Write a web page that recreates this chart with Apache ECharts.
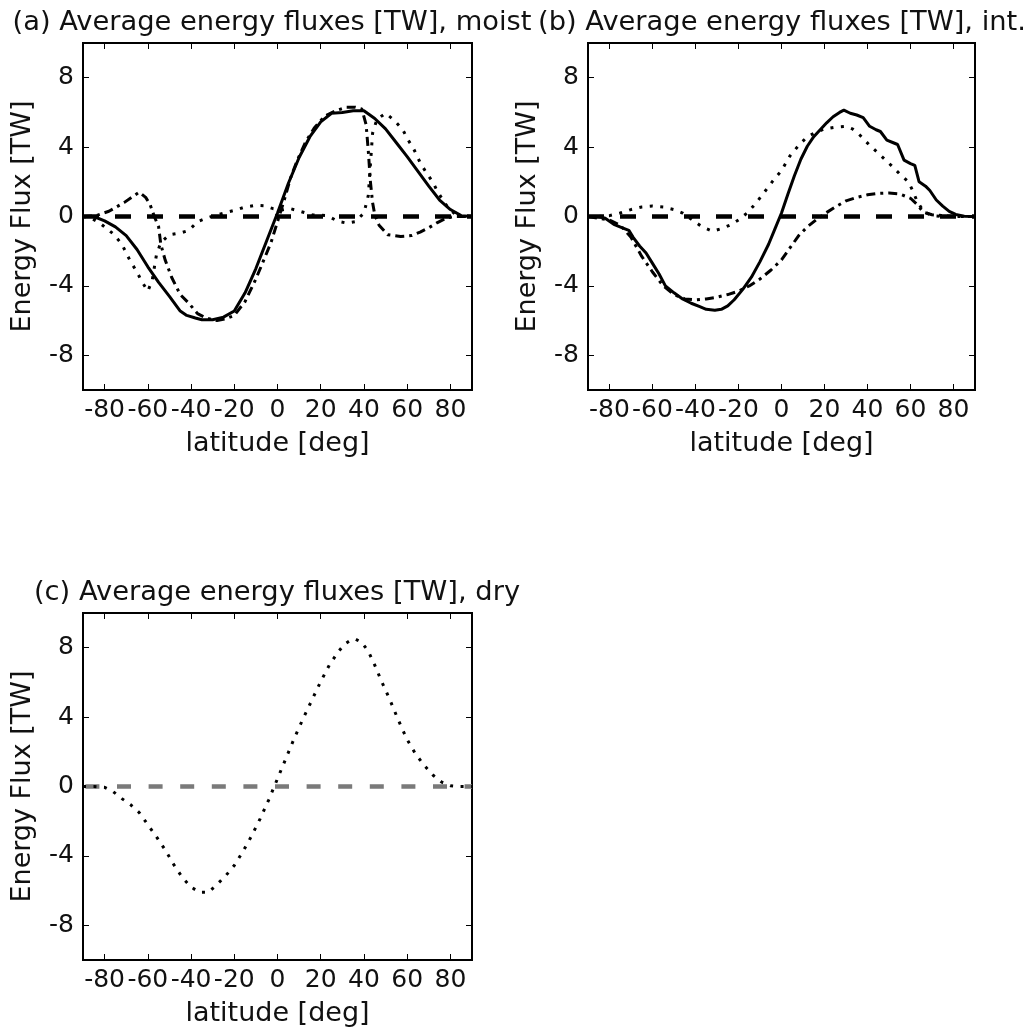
<!DOCTYPE html>
<html>
<head>
<meta charset="utf-8">
<script src="https://cdn.jsdelivr.net/npm/echarts@6/dist/echarts.min.js"></script>
<style>
  html, body { margin: 0; padding: 0; background: #ffffff; }
  #chart { width: 1029px; height: 1034px; }
</style>
</head>
<body>
<div id="chart"></div>
<script>
// Axis ticks
const latTicks = [-80, -60, -40, -20, 0, 20, 40, 60, 80];
const fluxTicks = [-8, -4, 0, 4, 8];

const panelTitles = [
  '(a) Average energy fluxes [TW], moist',
  '(b) Average energy fluxes [TW], int.',
  '(c) Average energy fluxes [TW], dry'
];
const xAxisName = 'latitude [deg]';
const yAxisName = 'Energy Flux [TW]';

// Reference line (zero flux)
const zeroLine = [[-90, 0], [90, 0]];

// (a) moist: [latitude, TW]
const moistTotal = [
  [-90, 0], [-85, 0], [-80, -0.25], [-75, -0.6], [-70, -1.1], [-65, -1.9], [-60, -2.9],
  [-55, -3.8], [-50, -4.6], [-45, -5.45], [-42, -5.7], [-38, -5.85], [-35, -5.95], [-30, -5.95],
  [-25, -5.8], [-20, -5.45], [-15, -4.4], [-10, -3.0], [-5, -1.4], [0, 0.2], [5, 1.9],
  [10, 3.4], [15, 4.6], [20, 5.45], [25, 5.95], [30, 6.0], [35, 6.1], [40, 6.1],
  [45, 5.65], [50, 5.05], [55, 4.25], [60, 3.45], [65, 2.6], [70, 1.75], [75, 0.95],
  [80, 0.4], [85, 0.05], [90, 0]
];
const moistDotted = [
  [-90, 0], [-86, -0.1], [-82, -0.4], [-79, -0.7], [-76, -1.0], [-72, -1.6], [-70, -2.1],
  [-68, -2.6], [-65, -3.2], [-63, -3.7], [-60, -4.3], [-58, -3.7], [-56, -2.2], [-54, -1.5],
  [-50, -1.05], [-45, -0.95], [-41, -0.8], [-37, -0.3], [-33, -0.1], [-28, 0.1], [-20, 0.35],
  [-15, 0.55], [-10, 0.65], [-6, 0.62], [-2, 0.45], [2, 0.38], [6, 0.45], [11, 0.28],
  [16, 0.1], [23, 0.05], [28, -0.28], [32, -0.38], [36, -0.3], [40, 0.2], [42, 1.2],
  [43, 3.0], [44, 4.8], [46, 5.6], [50, 5.95], [54, 5.55], [58, 5.0], [60, 4.5], [63, 3.9],
  [66, 3.1], [69, 2.5], [72, 1.95], [74, 1.45], [77, 0.85], [79, 0.5], [82, 0.15], [85, 0], [90, 0]
];
const moistDashDot = [
  [-90, 0], [-84, 0.05], [-78, 0.3], [-71, 0.8], [-64, 1.4], [-61, 1.1], [-59, 0.7], [-57, 0],
  [-55, -0.6], [-54, -1.6], [-52, -2.5], [-49, -3.5], [-45, -4.5], [-41, -5.0], [-37, -5.6],
  [-33, -5.85], [-28, -6.0], [-24, -5.9], [-20, -5.7], [-15, -4.9], [-10, -3.6], [-6, -2.4],
  [-3, -1.5], [0, -0.3], [3, 0.9], [6, 2.2], [9, 3.2], [13, 4.3], [17, 5.1], [22, 5.8],
  [27, 6.1], [32, 6.3], [36, 6.3], [39, 6.2], [41, 5.3], [42, 3.8], [43, 2.0], [44, 0.8],
  [45, 0.1], [47, -0.5], [51, -1.05], [57, -1.15], [62, -1.1], [66, -0.9], [70, -0.65],
  [74, -0.35], [78, -0.1], [82, 0], [90, 0]
];

// (b) int.
const intTotal = [
  [-90, 0], [-85, 0], [-82, -0.1], [-78, -0.45], [-74, -0.65], [-71, -0.8], [-69, -1.2],
  [-66, -1.7], [-63, -2.1], [-60, -2.7], [-57, -3.3], [-54, -4.0], [-50, -4.4], [-46, -4.75],
  [-42, -5.0], [-38, -5.2], [-35, -5.35], [-31, -5.4], [-28, -5.35], [-25, -5.15], [-22, -4.8],
  [-18, -4.2], [-14, -3.5], [-10, -2.6], [-6, -1.6], [-3, -0.7], [0, 0.2], [3, 1.3], [6, 2.35],
  [9, 3.3], [12, 4.05], [15, 4.6], [18, 5.0], [21, 5.4], [24, 5.75], [27, 6.0], [29, 6.13],
  [32, 5.95], [35, 5.85], [38, 5.7], [41, 5.2], [44, 5.0], [46, 4.9], [49, 4.4], [52, 4.25],
  [54, 4.15], [57, 3.25], [60, 3.05], [62, 2.95], [64, 2.0], [67, 1.75], [69, 1.5], [72, 0.95],
  [75, 0.6], [78, 0.3], [81, 0.12], [85, 0.02], [90, 0]
];
const intDotted = [
  [-90, 0], [-85, 0], [-80, 0.05], [-75, 0.2], [-70, 0.4], [-65, 0.55], [-60, 0.6], [-55, 0.55],
  [-50, 0.4], [-46, 0.2], [-42, -0.15], [-38, -0.5], [-35, -0.7], [-32, -0.85], [-28, -0.7],
  [-24, -0.5], [-20, -0.2], [-16, 0.2], [-12, 0.75], [-8, 1.4], [-4, 2.05], [0, 2.65], [4, 3.5],
  [8, 4.1], [12, 4.6], [16, 4.85], [20, 5.05], [25, 5.15], [30, 5.2], [33, 5.05], [36, 4.75],
  [41, 4.1], [45, 3.65], [51, 2.95], [55, 2.45], [59, 2.0], [61, 1.5], [63, 0.9], [66, 0.3],
  [70, 0.05], [75, 0], [90, 0]
];
const intDashDot = [
  [-90, 0], [-80, -0.2], [-75, -0.5], [-70, -1.2], [-65, -2.3], [-60, -3.2], [-55, -4.0],
  [-50, -4.5], [-45, -4.75], [-40, -4.8], [-35, -4.75], [-30, -4.65], [-25, -4.5], [-20, -4.3],
  [-15, -4.0], [-10, -3.6], [-5, -3.1], [0, -2.5], [4, -1.8], [8, -1.1], [12, -0.6], [16, -0.2],
  [20, 0.15], [25, 0.55], [30, 0.9], [35, 1.1], [40, 1.25], [45, 1.33], [50, 1.35], [55, 1.3],
  [60, 1.05], [63, 0.7], [66, 0.25], [70, 0.1], [75, 0.05], [80, 0], [90, 0]
];

// (c) dry
const dryDotted = [
  [-90, 0], [-85, 0], [-80, -0.05], [-76, -0.3], [-72, -0.7], [-68, -1.05], [-64, -1.5],
  [-60, -2.2], [-56, -2.9], [-52, -3.65], [-48, -4.5], [-44, -5.25], [-40, -5.8], [-36, -6.1],
  [-32, -6.1], [-28, -5.65], [-24, -5.15], [-20, -4.55], [-16, -3.75], [-12, -2.85], [-8, -1.85],
  [-4, -0.75], [0, 0.45], [4, 1.65], [8, 2.85], [12, 3.95], [16, 5.0], [20, 6.05], [24, 7.0],
  [28, 7.75], [31, 8.2], [34, 8.45], [36, 8.5], [39, 8.3], [42, 7.8], [45, 7.0], [48, 6.1],
  [52, 5.0], [56, 3.8], [60, 2.7], [64, 1.85], [68, 1.2], [72, 0.65], [76, 0.25], [80, 0.05],
  [84, 0], [90, 0]
];

const FONT = 'DejaVu Sans';
const TEXT = '#111111';

const grids = [
  { left: 83, top: 43, width: 389, height: 347 },
  { left: 588, top: 43, width: 387, height: 347 },
  { left: 83, top: 613, width: 389, height: 347 }
];
// horizontal centres of the panel titles
const titleCentres = [272, 782, 277];

const styles = {
  solid:   { color: '#000000', width: 3, type: 'solid' },
  dotted:  { color: '#000000', width: 3, type: [3, 7.5], cap: 'butt' },
  dashDot: { color: '#000000', width: 3, type: [9, 5, 3, 5], cap: 'butt' },
  dashed:  { color: '#000000', width: 4.5, type: [16, 16], cap: 'butt' },
  grayDashed: { color: '#7a7a7a', width: 4.5, type: [14, 17.6], dashOffset: 29.2, cap: 'butt' }
};

const panels = [
  { lines: [[zeroLine, 'dashed'], [moistDotted, 'dotted'], [moistDashDot, 'dashDot'], [moistTotal, 'solid']] },
  { lines: [[zeroLine, 'dashed'], [intDotted, 'dotted'], [intDashDot, 'dashDot'], [intTotal, 'solid']] },
  { lines: [[zeroLine, 'grayDashed'], [dryDotted, 'dotted']] }
];

const tickStyle = { show: true, inside: true, length: 6, lineStyle: { color: '#000', width: 1 } };

const xAxes = [], yAxes = [], series = [], gridOpts = [], graphics = [];

grids.forEach((g, i) => {
  gridOpts.push(Object.assign({ show: true, borderColor: '#000', borderWidth: 2, backgroundColor: 'transparent' }, g));
  const common = { gridIndex: i, type: 'value', splitLine: { show: false }, axisLine: { show: false, onZero: false } };
  // bottom x axis with labels
  xAxes.push(Object.assign({}, common, {
    position: 'bottom', min: -90, max: 90,
    axisTick: Object.assign({}, tickStyle, { customValues: latTicks }),
    axisLabel: { customValues: latTicks, color: TEXT, fontFamily: FONT, fontSize: 25, margin: 8 },
    name: xAxisName, nameLocation: 'middle', nameGap: 40,
    nameTextStyle: { color: TEXT, fontFamily: FONT, fontSize: 27 }
  }));
  // top x axis, ticks only
  xAxes.push(Object.assign({}, common, {
    position: 'top', min: -90, max: 90,
    axisTick: Object.assign({}, tickStyle, { customValues: latTicks }),
    axisLabel: { show: false }
  }));
  // left y axis with labels
  yAxes.push(Object.assign({}, common, {
    position: 'left', min: -10, max: 10,
    axisTick: Object.assign({}, tickStyle, { customValues: fluxTicks }),
    axisLabel: { customValues: fluxTicks, color: TEXT, fontFamily: FONT, fontSize: 25, margin: 9 },
    name: yAxisName, nameLocation: 'middle', nameGap: 47, nameRotate: 90,
    nameTextStyle: { color: TEXT, fontFamily: FONT, fontSize: 27 }
  }));
  // right y axis, ticks only
  yAxes.push(Object.assign({}, common, {
    position: 'right', min: -10, max: 10,
    axisTick: Object.assign({}, tickStyle, { customValues: fluxTicks }),
    axisLabel: { show: false }
  }));

  panels[i].lines.forEach(([data, styleKey]) => {
    series.push({
      type: 'line',
      xAxisIndex: i * 2,
      yAxisIndex: i * 2,
      data: data,
      showSymbol: false,
      symbol: 'none',
      silent: true,
      clip: true,
      lineStyle: styles[styleKey]
    });
  });

  graphics.push({
    type: 'text',
    x: titleCentres[i],
    y: g.top - 20,
    style: {
      text: panelTitles[i],
      fill: TEXT,
      font: '27.3px "DejaVu Sans"',
      textAlign: 'center',
      textVerticalAlign: 'middle'
    }
  });
});

const chart = echarts.init(document.getElementById('chart'), null, { renderer: 'canvas' });
chart.setOption({
  animation: false,
  backgroundColor: '#ffffff',
  grid: gridOpts,
  xAxis: xAxes,
  yAxis: yAxes,
  series: series,
  graphic: graphics
});
</script>
</body>
</html>
